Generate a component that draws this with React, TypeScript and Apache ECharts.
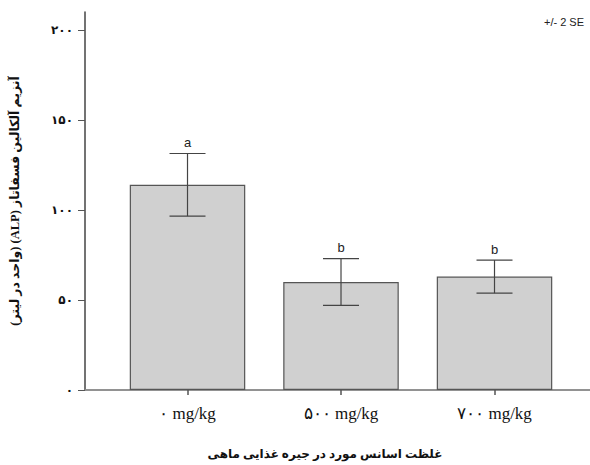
import React, { useEffect, useRef } from "react";
import * as echarts from "echarts";

const categories = ["۰ mg/kg", "۵۰۰ mg/kg", "۷۰۰ mg/kg"];
const positions = [1, 2, 3];
const means = [114, 60, 63];
const twoSE = [17.4, 13, 9.2];
const letters = ["a", "b", "b"];
const yTicks = [0, 50, 100, 150, 200];

const toFa = (s: string) => s.replace(/[0-9]/g, (d) => "۰۱۲۳۴۵۶۷۸۹"[Number(d)]);
const rtl = (s: string) => "\u202B" + s + "\u202C";

export default function App() {
  const ref = useRef<HTMLDivElement>(null);
  useEffect(() => {
    if (!ref.current) return;
    const chart = echarts.init(ref.current, null, { renderer: "svg" });
    const barData = positions.map((p, i) => [p, means[i]]);
    const errData = positions.map((p, i) => [p, means[i] - twoSE[i], means[i] + twoSE[i], i]);
    chart.setOption({
      animation: false,
      backgroundColor: "#fff",
      grid: { left: 85, right: 0, top: 12, bottom: 75 },
      xAxis: [
        {
          type: "value",
          min: 0.3322,
          max: 3.6221,
          splitLine: { show: false },
          axisLine: { show: true, onZero: false, lineStyle: { color: "#555", width: 1.5 } },
          axisTick: { show: true, customValues: positions, length: 5, lineStyle: { color: "#555", width: 1.5 } },
          axisLabel: {
            customValues: positions,
            margin: 15,
            formatter: (v: number) => categories[Math.round(v) - 1] ?? "",
            fontFamily: "Liberation Serif, DejaVu Serif, serif",
            fontSize: 17,
            color: "#111",
          },
        },
        {
          type: "value",
          position: "top",
          min: 0.3322,
          max: 3.6221,
          splitLine: { show: false },
          axisLine: { show: true, lineStyle: { color: "#999", width: 1.5 } },
          axisTick: { show: false },
          axisLabel: { show: false },
        },
      ],
      yAxis: {
        type: "value",
        min: 0,
        max: 210,
        splitLine: { show: false },
        axisLine: { show: true, lineStyle: { color: "#444", width: 1.5 } },
        axisTick: { show: true, customValues: yTicks, length: 7, lineStyle: { color: "#555" } },
        axisLabel: {
          customValues: yTicks,
          margin: 12,
          formatter: (v: number) => toFa(String(v)),
          fontWeight: "bold",
          fontSize: 12,
          color: "#111",
          fontFamily: "DejaVu Sans, sans-serif",
        },
        name: rtl("آنزیم آلکالین فسفاتاز (ALP) (واحد در لیتر)"),
        nameLocation: "middle",
        nameRotate: 90,
        nameGap: 64,
        nameTextStyle: {
          fontWeight: "bold",
          fontSize: 12.5,
          color: "#111",
          fontFamily: "Liberation Serif, DejaVu Sans, serif",
        },
      },
      series: [
        {
          type: "bar",
          data: barData,
          barWidth: 115.5,
          itemStyle: {
            color: "#d0d0d0",
            borderColor: "#555",
            borderWidth: 1.2,
          },
        },
        {
          type: "custom",
          data: errData,
          z: 10,
          renderItem: (params: any, api: any) => {
            const x = api.value(0);
            const lo = api.coord([x, api.value(1)]);
            const hi = api.coord([x, api.value(2)]);
            const idx = api.value(3);
            const half = 18;
            const style = { stroke: "#444", lineWidth: 1.2 };
            return {
              type: "group",
              children: [
                { type: "line", shape: { x1: lo[0], y1: lo[1], x2: hi[0], y2: hi[1] }, style },
                { type: "line", shape: { x1: hi[0] - half, y1: hi[1], x2: hi[0] + half, y2: hi[1] }, style },
                { type: "line", shape: { x1: lo[0] - half, y1: lo[1], x2: lo[0] + half, y2: lo[1] }, style },
                {
                  type: "text",
                  x: hi[0],
                  y: hi[1] - 11,
                  style: {
                    text: letters[idx],
                    fill: "#222",
                    fontSize: 13,
                    fontFamily: "Liberation Sans, Arial, sans-serif",
                    align: "center",
                    verticalAlign: "middle",
                  },
                },
              ],
            };
          },
        },
      ],
      graphic: [
        {
          type: "text",
          right: 6,
          top: 16,
          style: {
            text: "+/- 2 SE",
            fill: "#222",
            fontSize: 11,
            fontFamily: "Liberation Sans, Arial, sans-serif",
          },
        },
        {
          type: "text",
          x: 325,
          y: 454,
          style: {
            text: rtl("غلظت اسانس مورد در جیره غذایی ماهی"),
            fill: "#111",
            fontSize: 12,
            fontWeight: "bold",
            fontFamily: "Liberation Serif, DejaVu Sans, serif",
            align: "center",
            verticalAlign: "middle",
          },
        },
      ],
    });
    return () => chart.dispose();
  }, []);
  return <div ref={ref} style={{ position: "absolute", left: 0, top: 0, width: 590, height: 465 }} />;
}
